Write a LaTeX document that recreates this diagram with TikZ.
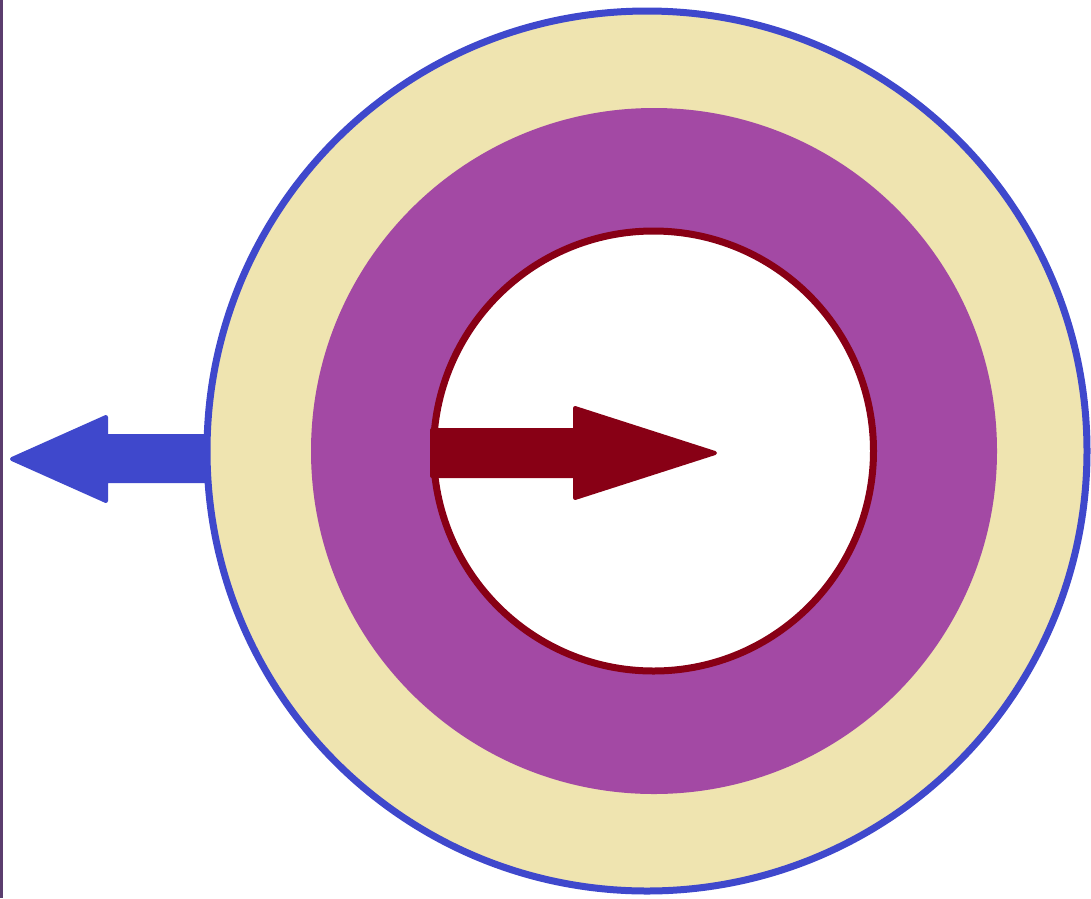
\documentclass[tikz,border=0pt]{standalone}
\definecolor{pblue}{HTML}{3F48CC}
\definecolor{pbeige}{HTML}{EFE4B0}
\definecolor{ppurple}{HTML}{A349A4}
\definecolor{pred}{HTML}{880015}
\definecolor{pedge}{HTML}{5B3D6E}
\tikzset{
  outerring/.style={fill=pbeige,draw=pblue,line width=7pt},
  midring/.style={fill=ppurple},
  innerdisc/.style={fill=white,draw=pred,line width=7pt},
  arrowshape/.style={line join=round,line width=4pt}
}
\begin{document}
\begin{tikzpicture}[x=1pt,y=-1pt]
\useasboundingbox (0,0) rectangle (1091,898);
\fill[white] (0,0) rectangle (1091,898);
\fill[pedge] (0,0) rectangle (2.5,898);
\draw[outerring] (647,451) circle (440);
\fill[midring] (654,451) circle (343);
\draw[innerdisc] (653.5,451) circle (220);
% blue arrow
\filldraw[arrowshape,fill=pblue,draw=pblue]
  (12,459) -- (106,417) -- (106,436) -- (206,436) -- (206,481) -- (106,481) -- (106,501) -- cycle;
% red arrow
\filldraw[arrowshape,fill=pred,draw=pred]
  (432,430) -- (575,430) -- (575,408) -- (715,453) -- (575,498) -- (575,476) -- (432,476) -- cycle;
\end{tikzpicture}
\end{document}
